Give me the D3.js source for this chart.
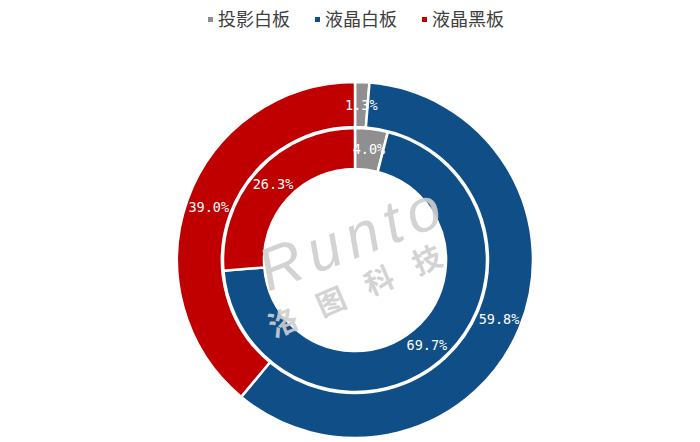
<!DOCTYPE html>
<html><head><meta charset="utf-8">
<script src="https://cdn.jsdelivr.net/npm/d3@7"></script>
<style>body{margin:0;background:#fff}svg{display:block}</style>
</head><body>
<svg id="c" width="700" height="442"></svg>
<script>
const categories = ["投影白板", "液晶白板", "液晶黑板"];
const outerValues = [1.3, 59.8, 39.0];
const innerValues = [4.0, 69.7, 26.3];
const colors = ["#8f8f8f", "#0f4e87", "#c00000"];

const svg = d3.select("#c");
const cx = 355, cy = 260;
const g = svg.append("g").attr("transform", `translate(${cx},${cy})`);
const pie = d3.pie().sort(null).value(d => d);

function ring(values, r0, r1) {
  const arc = d3.arc().innerRadius(r0).outerRadius(r1);
  const arcs = pie(values);
  g.append("g").selectAll("path").data(arcs).join("path")
    .attr("d", arc).attr("fill", (d, i) => colors[i])
    .attr("stroke", "#fff").attr("stroke-width", 2.5);
  const la = d3.arc().innerRadius((r0 + r1) / 2).outerRadius((r0 + r1) / 2);
  g.append("g").selectAll("text").data(arcs).join("text")
    .attr("transform", d => `translate(${la.centroid(d)})`)
    .attr("text-anchor", "middle").attr("dy", "0.36em")
    .attr("fill", "#fff").attr("font-family", "DejaVu Sans Mono, monospace")
    .attr("font-size", 13.5)
    .text(d => d.data.toFixed(1) + "%");
}
ring(outerValues, 133, 178);
ring(innerValues, 91, 132);

// watermark
svg.append("text").attr("transform", "translate(268,292) rotate(-21)")
  .attr("fill", "#cfcfcf").attr("opacity", 0.9)
  .attr("font-family", "Liberation Sans, Arial, sans-serif").attr("font-style", "italic")
  .attr("font-size", 60).attr("textLength", 190).attr("lengthAdjust", "spacing").text("Runto");
svg.append("text").attr("transform", "translate(274,338) rotate(-23.5)")
  .attr("fill", "#cfcfcf").attr("opacity", 0.9)
  .attr("font-family", "Noto Sans CJK SC, sans-serif").attr("font-weight", "bold")
  .attr("font-size", 29).attr("textLength", 186).attr("lengthAdjust", "spacing").text("洛图科技");

// legend
const legendX = [208, 315, 422];
const lg = svg.append("g");
categories.forEach((c, i) => {
  lg.append("rect").attr("x", legendX[i]).attr("y", 17).attr("width", 5).attr("height", 5)
    .attr("fill", colors[i]);
  lg.append("text").attr("x", legendX[i] + 10).attr("y", 20).attr("dy", "0.36em")
    .attr("font-family", "Noto Sans CJK SC, sans-serif").attr("font-size", 18)
    .attr("fill", "#404040").text(c);
});
</script>
</body></html>
